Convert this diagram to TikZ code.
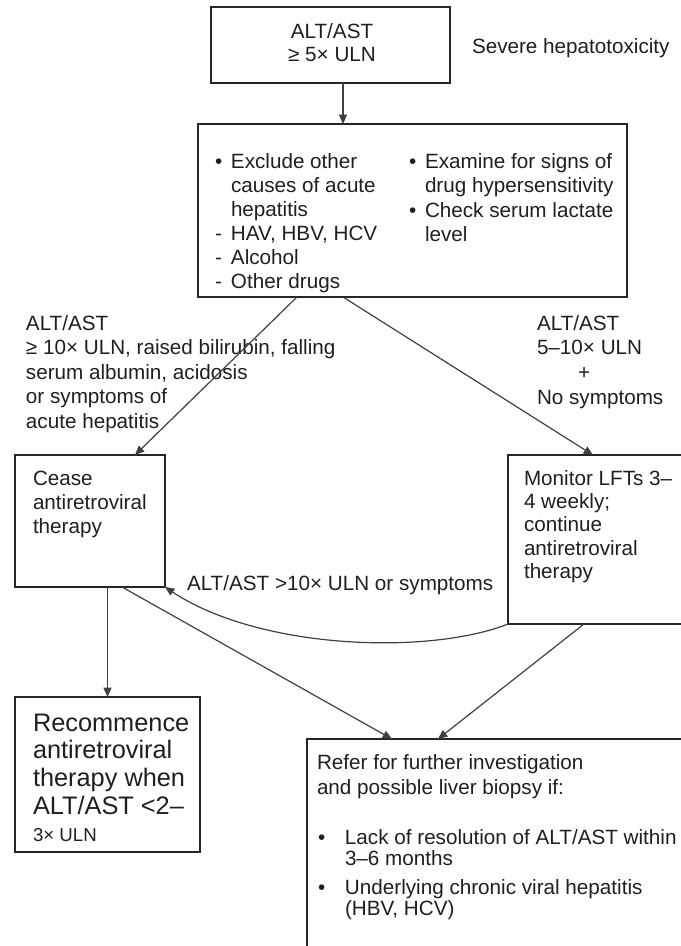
\documentclass[tikz,border=0pt]{standalone}
\usepackage{fontspec}
\setmainfont{Liberation Sans}
\usetikzlibrary{arrows.meta}
\begin{document}
\begin{tikzpicture}[x=0.75pt,y=-0.75pt,
  box/.style={draw=black!85,line width=1.3pt,inner sep=0pt,outer sep=0pt,anchor=north west},
  txt/.style={inner sep=0pt,outer sep=0pt,anchor=base west,text=black!88,font=\fontsize{15.5}{18}\selectfont},
  arr/.style={draw=black!75,line width=0.9pt,-{Triangle[length=7pt,width=6pt]}}]
\useasboundingbox (0,0) rectangle (681,946);
\clip (0,0) rectangle (681,946);
% boxes
\node[box,minimum width=179.25pt,minimum height=57pt] (top) at (211,7) {};
\node[box,minimum width=321.75pt,minimum height=129.75pt] (mid) at (198,124) {};
\node[box,minimum width=112.5pt,minimum height=99pt] (cease) at (15,455) {};
\node[box,minimum width=159pt,minimum height=126.75pt] (mon) at (508,455) {};
\node[box,minimum width=138.75pt,minimum height=116.25pt] (rec) at (15,697) {};
\node[box,minimum width=309.75pt,minimum height=195.75pt] (ref) at (307,739) {};
% texts
\node[txt,anchor=base,font=\fontsize{15.5}{17.25}\selectfont] (ttop) at (332,38)
  {\begin{tabular}[t]{@{}c@{}}ALT/AST\\ ≥ 5× ULN\end{tabular}};
\node[txt] (sev) at (472,53) {Severe hepatotoxicity};
\node[txt] (ml) at (215,168)
  {\begin{tabular}[t]{@{}p{12pt}@{}l@{}}•&Exclude other\\ &causes of acute\\ &hepatitis\\ -&HAV, HBV, HCV\\ -&Alcohol\\ -&Other drugs\end{tabular}};
\node[txt,font=\fontsize{15.5}{18.4}\selectfont] (mr) at (409,168)
  {\begin{tabular}[t]{@{}p{12pt}@{}l@{}}•&Examine for signs of\\ &drug hypersensitivity\\ •&Check serum lactate\\ &level\end{tabular}};
\node[txt,font=\fontsize{15.5}{18.4}\selectfont] (llab) at (26,330)
  {\begin{tabular}[t]{@{}l@{}}ALT/AST\\ ≥ 10× ULN, raised bilirubin, falling\\ serum albumin, acidosis\\ or symptoms of\\ acute hepatitis\end{tabular}};
\node[txt,font=\fontsize{15.5}{18.5}\selectfont] (rlab) at (537,330)
  {\begin{tabular}[t]{@{}l@{}}ALT/AST\\ 5–10× ULN\\ \hspace*{30.75pt}+\\ No symptoms\end{tabular}};
\node[txt] (tcease) at (33,485)
  {\begin{tabular}[t]{@{}l@{}}Cease\\ antiretroviral\\ therapy\end{tabular}};
\node[txt,font=\fontsize{15.5}{17.5}\selectfont] (tmon) at (524,485)
  {\begin{tabular}[t]{@{}l@{}}Monitor LFTs 3–\\ 4 weekly;\\ continue\\ antiretroviral\\ therapy\end{tabular}};
\node[txt] (lbl) at (187,590) {ALT/AST >10× ULN or symptoms};
\node[txt,font=\fontsize{19}{20.8}\selectfont] (trec) at (33,731)
  {\begin{tabular}[t]{@{}l@{}}Recommence\\ antiretroviral\\ therapy when\\ ALT/AST <2–\\ {\fontsize{14}{15}\selectfont 3× ULN}\end{tabular}};
\node[txt,font=\fontsize{15.5}{18.75}\selectfont] (tref) at (317,769)
  {\begin{tabular}[t]{@{}l@{}}Refer for further investigation\\ and possible liver biopsy if:\end{tabular}};
\node[txt,font=\fontsize{15.5}{15.75}\selectfont] (b1) at (318,844)
  {\begin{tabular}[t]{@{}p{20.25pt}@{}l@{}}•&Lack of resolution of ALT/AST within\\ &3–6 months\end{tabular}};
\node[txt,font=\fontsize{15.5}{15.75}\selectfont] (b2) at (318,894)
  {\begin{tabular}[t]{@{}p{20.25pt}@{}l@{}}•&Underlying chronic viral hepatitis\\ &(HBV, HCV)\end{tabular}};
% connectors
\coordinate (ma) at ([xshift=108.75pt]mid.north west);
\draw[arr] (top.south -| ma) -- (ma);
\draw[arr] ([xshift=74.25pt]mid.south west) -- ([xshift=33.75pt]cease.north);
\draw[arr] ([xshift=108.75pt]mid.south west) -- ([xshift=63.75pt]mon.north west);
\draw[arr] (cease.south -| rec.north) -- (rec.north);
\draw[arr] ([xshift=24pt]cease.south) -- ([xshift=63.75pt]ref.north west);
\draw[arr] ([xshift=57pt]mon.south west) -- ([xshift=98.25pt]ref.north west);
\draw[arr] (mon.south west) .. controls (430,655) and (260,650) .. (cease.south east);
\end{tikzpicture}
\end{document}
